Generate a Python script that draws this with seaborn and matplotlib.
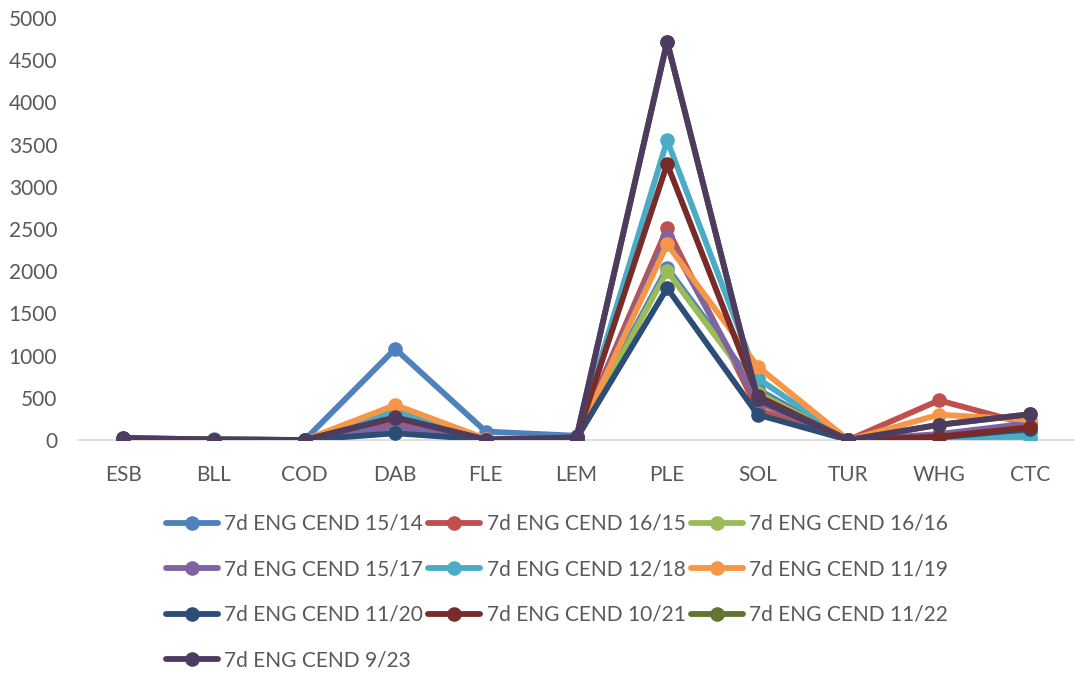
import matplotlib
matplotlib.use("Agg")
import matplotlib.pyplot as plt
import seaborn as sns
import pandas as pd

categories = ["ESB", "BLL", "COD", "DAB", "FLE", "LEM", "PLE", "SOL", "TUR", "WHG", "CTC"]
series_names = ["7d ENG CEND 15/14", "7d ENG CEND 16/15", "7d ENG CEND 16/16",
                "7d ENG CEND 15/17", "7d ENG CEND 12/18", "7d ENG CEND 11/19",
                "7d ENG CEND 11/20", "7d ENG CEND 10/21", "7d ENG CEND 11/22",
                "7d ENG CEND 9/23"]
s_15_14 = [10, 5, 0, 1080, 100, 50, 2040, 600, 0, 50, 100]
s_16_15 = [10, 3, 0, 200, 10, 20, 2510, 360, 0, 470, 180]
s_16_16 = [10, 3, 0, 120, 5, 15, 2000, 560, 0, 20, 15]
s_15_17 = [10, 3, 0, 160, 5, 15, 2410, 450, 0, 70, 200]
s_12_18 = [10, 8, 0, 350, 10, 20, 3550, 730, 0, 30, 40]
s_11_19 = [10, 3, 0, 415, 15, 20, 2320, 870, 0, 300, 240]
s_11_20 = [10, 3, 0, 80, 5, 15, 1800, 300, 0, 30, 130]
s_10_21 = [10, 3, 0, 270, 5, 20, 3270, 520, 0, 40, 150]
s_11_22 = [25, 5, 0, 265, 5, 30, 4720, 480, 0, 180, 305]
s_9_23 = [25, 5, 0, 265, 5, 30, 4720, 480, 0, 180, 305]
values = [s_15_14, s_16_15, s_16_16, s_15_17, s_12_18, s_11_19,
          s_11_20, s_10_21, s_11_22, s_9_23]
colors = ["#4F81BD", "#C0504D", "#9BBB59", "#8064A2", "#4BACC6", "#F79646",
          "#2C4D75", "#772C2A", "#5F7530", "#4D3B62"]

rows = []
for name, vals in zip(series_names, values):
    for c, v in zip(categories, vals):
        rows.append({"cat": c, "val": v, "series": name})
df = pd.DataFrame(rows)

sns.set_theme(style="white")
plt.rcParams["font.family"] = ["Lato", "DejaVu Sans"]

fig = plt.figure(figsize=(10.75, 6.73), dpi=100)
ax = fig.add_axes([78 / 1075, 1 - 440 / 673, 1 - 78 / 1075, (440 - 18) / 673])

sns.lineplot(data=df, x="cat", y="val", hue="series", hue_order=series_names,
             palette=colors, marker="o", markersize=10.5, markeredgewidth=0,
             linewidth=4.2, sort=False, ax=ax, legend=True)

ax.set_xlim(-0.5, len(categories) - 0.5)
ax.set_ylim(0, 5000)
ax.set_yticks(range(0, 5001, 500))
ax.set_xlabel("")
ax.set_ylabel("")
for s in ["top", "right", "left"]:
    ax.spines[s].set_visible(False)
ax.spines["bottom"].set_color("#D9D9D9")
ax.spines["bottom"].set_linewidth(1.2)
ax.spines["bottom"].set_zorder(0)
ax.tick_params(axis="both", colors="#595959", labelsize=15, length=0)
ax.tick_params(axis="x", pad=18)
ax.tick_params(axis="y", pad=15)
for lab in ax.get_yticklabels() + ax.get_xticklabels():
    lab.set_color("#595959")

handles, labels = ax.get_legend_handles_labels()
order = [0, 3, 6, 9, 1, 4, 7, 2, 5, 8]
ax.legend([handles[i] for i in order], [labels[i] for i in order], ncol=3,
          loc="upper left",
          bbox_to_anchor=(166 / 1075, 1 - 514 / 673), bbox_transform=fig.transFigure,
          frameon=False, fontsize=15, handlelength=2.5, handletextpad=0.3,
          columnspacing=0.25, labelspacing=1.22, borderaxespad=0, borderpad=0,
          labelcolor="#595959")

fig.savefig("out.png", dpi=100)
